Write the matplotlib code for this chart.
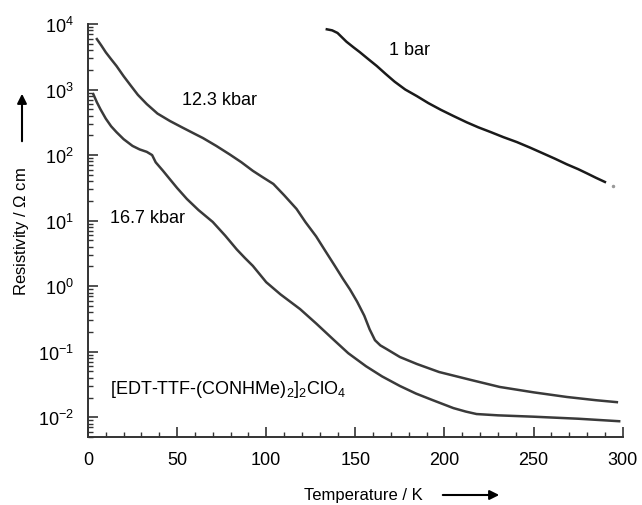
import matplotlib
matplotlib.use("Agg")
import matplotlib.pyplot as plt
from matplotlib.patches import FancyArrowPatch
from matplotlib.ticker import MultipleLocator, LogLocator, NullFormatter

plt.rcParams['font.family'] = ['Liberation Sans', 'DejaVu Sans']
plt.rcParams['mathtext.fontset'] = 'custom'
plt.rcParams['mathtext.rm'] = 'Liberation Sans'
plt.rcParams['mathtext.it'] = 'Liberation Sans:italic'
plt.rcParams['axes.unicode_minus'] = False

# Resistivity (Ohm cm) vs temperature (K)
t_1bar = [134, 137, 140, 145, 149, 152.5, 157, 162, 167, 172, 178, 184.5, 191, 198,
          205, 212.5, 219, 226, 233, 240.6, 248, 255, 262, 268.6, 275, 280, 285, 290]
r_1bar = [8300, 8000, 7300, 5370, 4400, 3720, 2950, 2290, 1730, 1320, 1000, 794, 620,
          490, 395, 316, 265, 224, 188, 158, 130, 107, 88, 72.4, 61, 52.5, 45, 38.9]

t_123 = [5, 7.5, 10, 13, 16, 20, 24, 28, 33, 39, 46, 53, 60, 64.5, 72, 79.6, 86, 92.5,
         98, 104, 110, 117, 122, 128, 133, 138.5, 143, 147, 151, 155, 158, 161, 164,
         167.5, 175, 184.5, 197, 215, 231, 250, 268.6, 285, 296.7]
r_123 = [5890, 4700, 3700, 2900, 2290, 1600, 1150, 830, 600, 430, 331, 263, 210, 182,
         138, 102, 78, 57.5, 46, 36.3, 24.5, 15.1, 9.5, 5.75, 3.5, 2.04, 1.3, 0.89,
         0.58, 0.355, 0.22, 0.15, 0.125, 0.110, 0.083, 0.065, 0.049, 0.037, 0.029,
         0.024, 0.0204, 0.0182, 0.017]

t_167 = [3, 5, 7, 10, 13, 16, 20, 25, 29, 33, 36, 38, 42, 46, 50, 55.5, 62, 70, 77,
         83.5, 88, 92.5, 100, 108, 119, 128, 137.5, 146, 156, 165, 175, 184, 193.5,
         205, 212, 218, 230, 250, 275, 298]
r_167 = [851, 640, 501, 360, 275, 224, 175, 138, 122, 112, 100, 77.6, 58, 42.7, 31.5,
         21.4, 14.5, 9.55, 5.9, 3.63, 2.7, 2.04, 1.15, 0.75, 0.447, 0.27, 0.155, 0.095,
         0.060, 0.042, 0.030, 0.023, 0.0182, 0.0138, 0.0122, 0.0112, 0.0107, 0.0102,
         0.0095, 0.0087]

# lone point after the end of the 1 bar run
t_dot = [294.5]
r_dot = [34]

fig = plt.figure(figsize=(6.42, 5.06), dpi=100)
ax = fig.add_axes([0.137, 0.1344, 0.833, 0.8162])

ax.plot(t_1bar, r_1bar, color='#1a1a1a', lw=1.8)
ax.plot(t_123, r_123, color='#3a3a3a', lw=1.8)
ax.plot(t_167, r_167, color='#3a3a3a', lw=1.8)
ax.plot(t_dot, r_dot, 'o', color='#999999', ms=1.5)

ax.set_yscale('log')
ax.set_xlim(0, 300)
ax.set_ylim(5e-3, 1e4)

ax.xaxis.set_major_locator(MultipleLocator(50))
ax.xaxis.set_minor_locator(MultipleLocator(10))
ax.yaxis.set_major_locator(LogLocator(base=10, numticks=20))
ax.yaxis.set_minor_locator(LogLocator(base=10, subs=range(2, 10), numticks=20))
ax.yaxis.set_minor_formatter(NullFormatter())

for side in ['top', 'right']:
    ax.spines[side].set_visible(False)
for side in ['left', 'bottom']:
    ax.spines[side].set_linewidth(1.4)
    ax.spines[side].set_color('#333333')

ax.tick_params(which='major', direction='in', length=7, width=1.2, color='#333333',
               labelsize=13, pad=10)
ax.tick_params(which='minor', direction='in', length=3.5, width=1.0, color='#333333')

ax.text(169, 4150, '1 bar', fontsize=13, va='center', ha='left')
ax.text(52.7, 716, '12.3 kbar', fontsize=13, va='center', ha='left')
ax.text(12.3, 11.2, '16.7 kbar', fontsize=13, va='center', ha='left')
ax.text(12.3, 0.027, r'[EDT-TTF-(CONHMe)$_2$]$_2$ClO$_4$', fontsize=13,
        va='center', ha='left')

fig.text(22 / 642, 1 - 232 / 506, r'Resistivity / $\Omega$ cm', rotation=90,
         fontsize=12, ha='center', va='center')
fig.text(363 / 642, 1 - 496 / 506, 'Temperature / K', fontsize=12,
         ha='center', va='center')

arrow = dict(arrowstyle='-|>', color='black', lw=1.5, mutation_scale=14)
fig.add_artist(FancyArrowPatch((22 / 642, 1 - 145 / 506), (22 / 642, 1 - 92 / 506),
                               transform=fig.transFigure, **arrow))
fig.add_artist(FancyArrowPatch((440 / 642, 1 - 496 / 506), (502 / 642, 1 - 496 / 506),
                               transform=fig.transFigure, **arrow))

fig.savefig('out.png', dpi=100)
